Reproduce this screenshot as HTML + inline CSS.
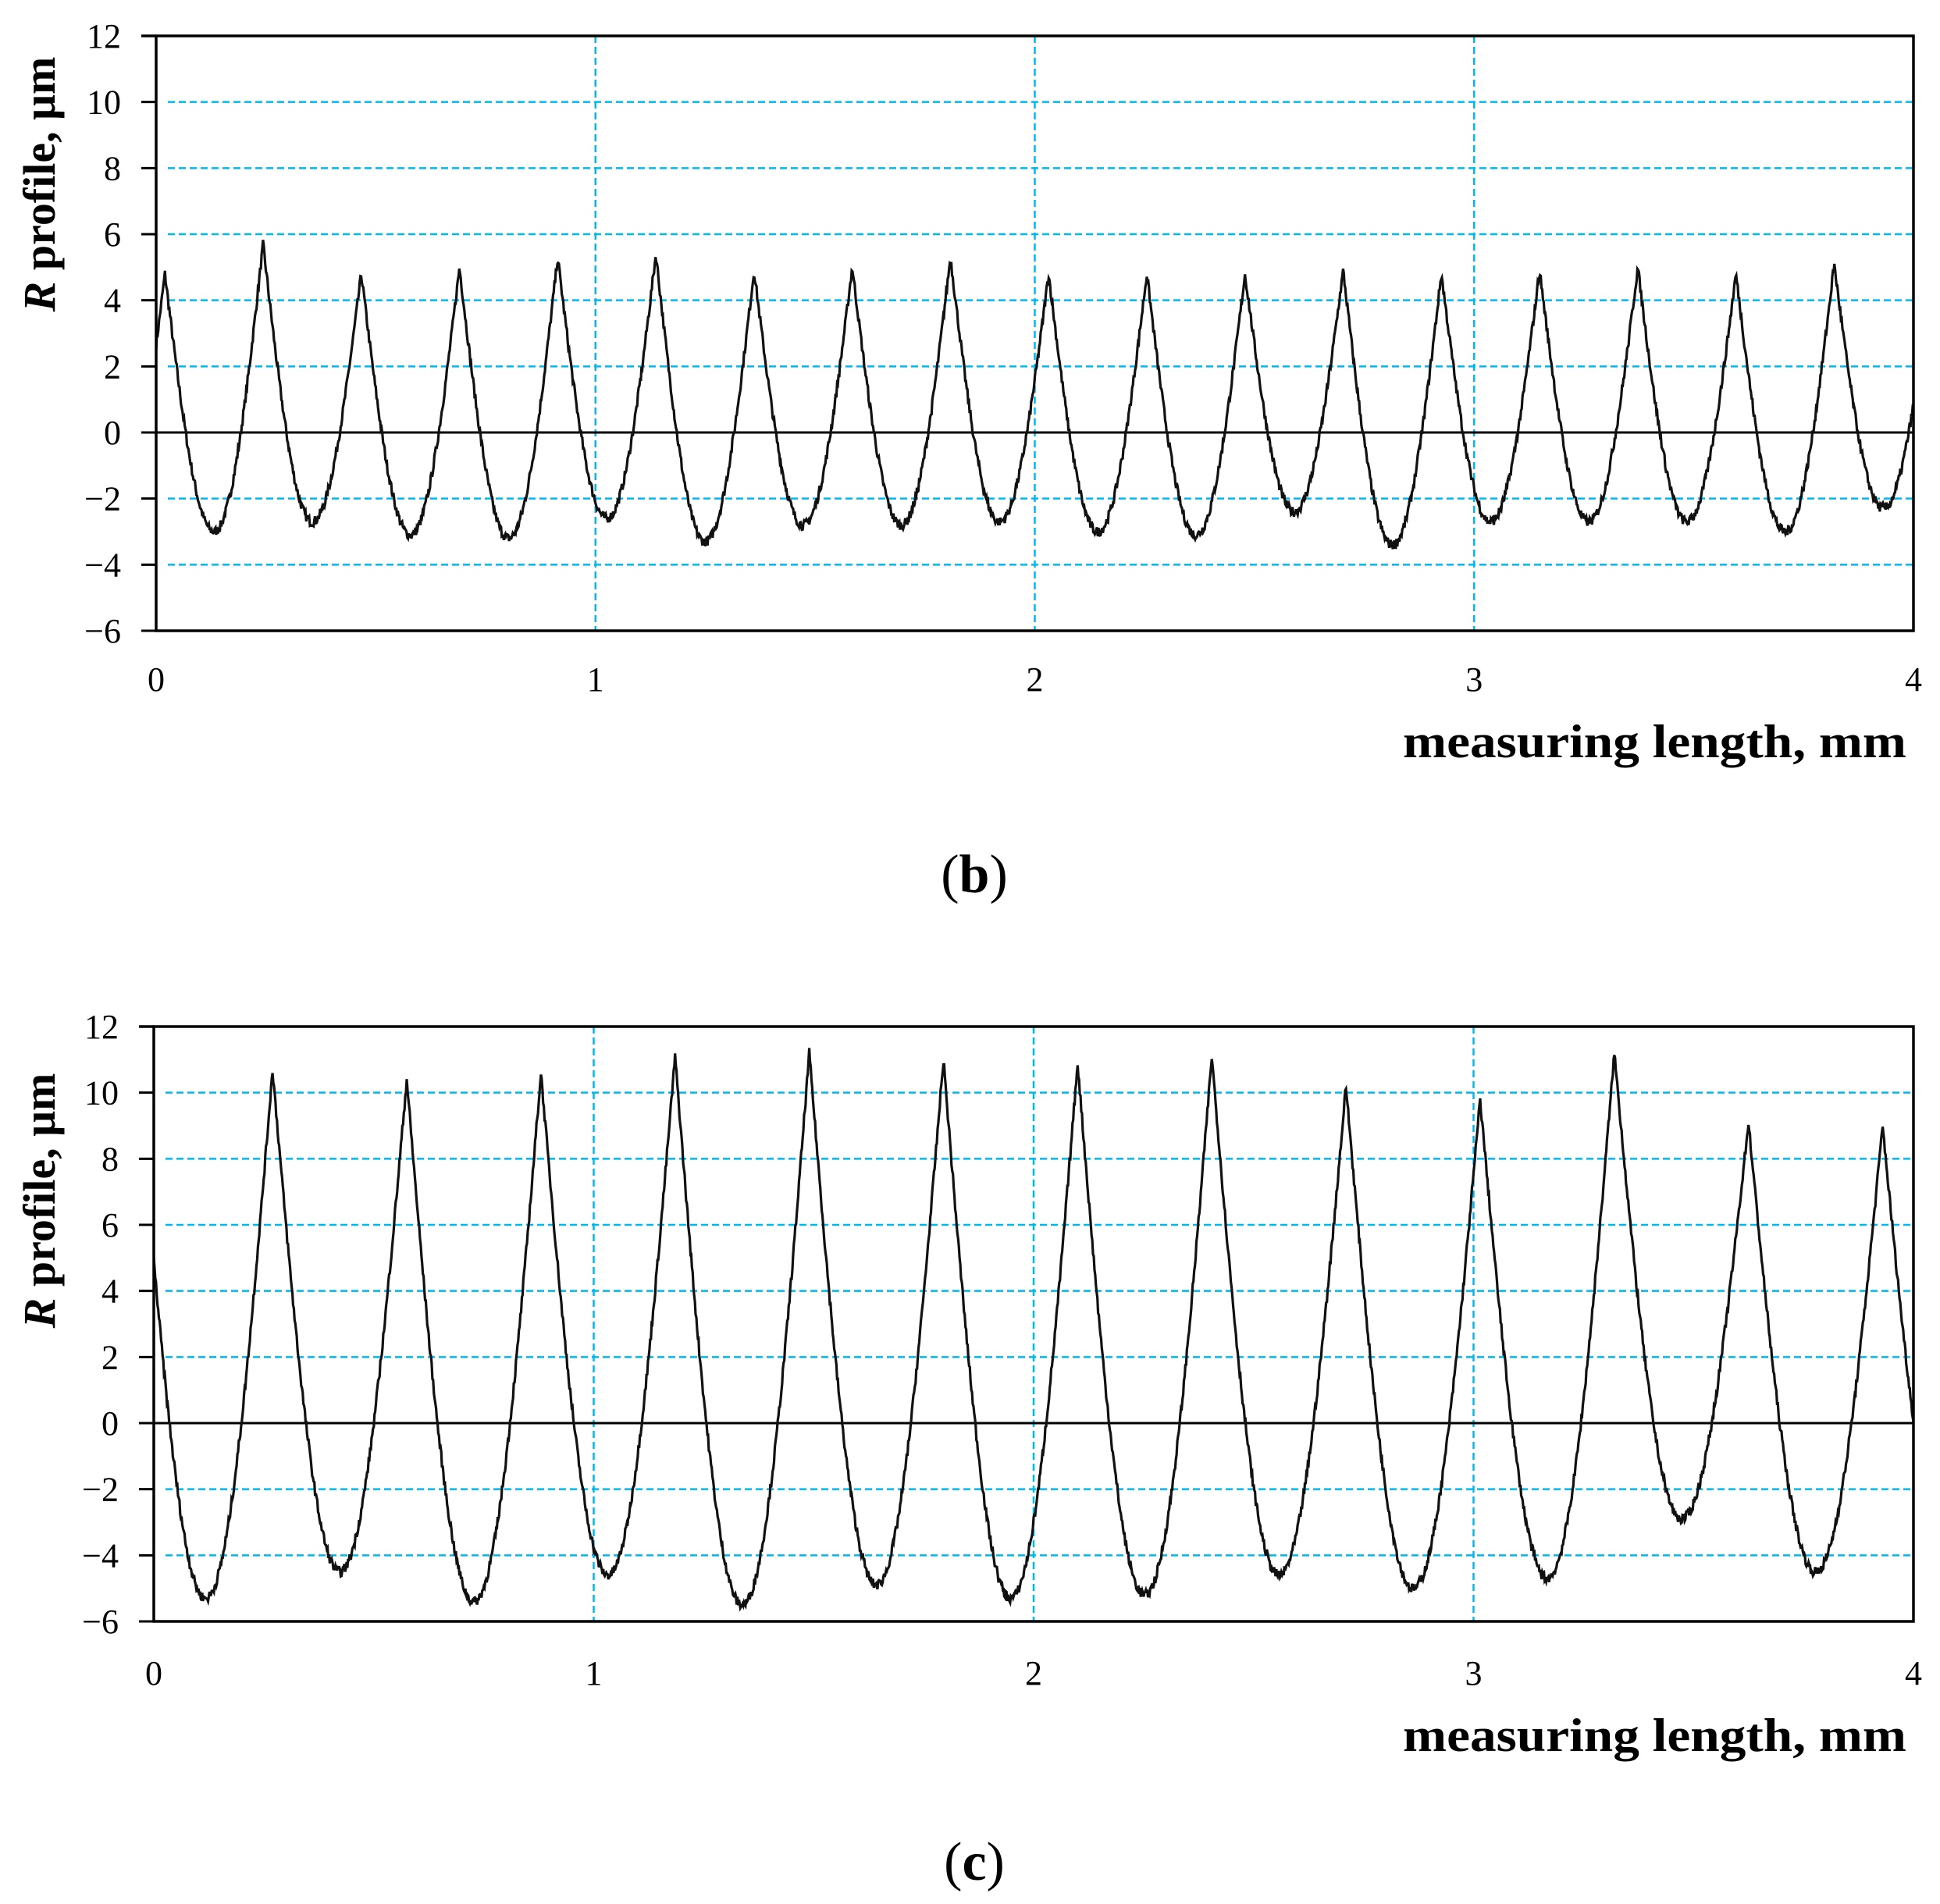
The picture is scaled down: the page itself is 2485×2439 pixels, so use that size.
<!DOCTYPE html>
<html><head><meta charset="utf-8"><style>
html,body{margin:0;padding:0;background:#fff;}
svg{display:block;}
text{font-family:"Liberation Serif",serif;fill:#000;}
</style></head><body>
<svg id="s" width="2485" height="2439" viewBox="0 0 2485 2439" xmlns="http://www.w3.org/2000/svg">
<g id="b"></g><g id="c"></g>
<text x="1248" y="1143" font-size="70" text-anchor="middle">(<tspan font-weight="bold">b</tspan>)</text>
<text x="1248" y="2408" font-size="70" text-anchor="middle">(<tspan font-weight="bold">c</tspan>)</text>
</svg>
<script>
var NS="http://www.w3.org/2000/svg";
function el(p,t,a,txt){var e=document.createElementNS(NS,t);for(var k in a)e.setAttribute(k,a[k]);if(txt!=null)e.textContent=txt;p.appendChild(e);return e;}
var seed=7;function rnd(){seed=(seed*16807)%2147483647;return seed/2147483647;}
function chart(g,L,R,T,B,labY,labX,labTitleY,peaks0,period,heights,troughs){
  var sx=function(v){return L+(R-L)*v/4;}, sy=function(v){return B-(B-T)*(v+6)/18;};
  [10,8,6,4,2,-2,-4].forEach(function(v){el(g,'line',{x1:L+15,x2:R,y1:sy(v),y2:sy(v),stroke:'#00b8f0','stroke-width':2.5,'stroke-dasharray':'9,5'});});
  [1,2,3].forEach(function(v){el(g,'line',{x1:sx(v),x2:sx(v),y1:T,y2:B,stroke:'#00b8f0','stroke-width':2.5,'stroke-dasharray':'9,5'});});
  el(g,'line',{x1:L,x2:R,y1:sy(0),y2:sy(0),stroke:'#000','stroke-width':3});
  for(var v=-6;v<=12;v+=2){el(g,'line',{x1:L-19,x2:L,y1:sy(v),y2:sy(v),stroke:'#000','stroke-width':3});
    el(g,'text',{x:L-45,y:sy(v)+15,'font-size':44,'text-anchor':'end'},(v<0?'\u2212'+(-v):''+v));}
  for(var i=0;i<=4;i++)el(g,'text',{x:sx(i),y:labX,'font-size':44,'text-anchor':'middle'},''+i);
  var d='';var N=2400;
  for(var i=0;i<=N;i++){var x=4*i/N;var k=Math.round((x-peaks0)/period);var p=(x-peaks0)/period-k;
    var kk=Math.max(0,Math.min(heights.length-1,k));var pk=heights[kk];
    var kt=Math.max(0,Math.min(troughs.length-1,p<0?k-1:k));var tr=troughs[kt];
    var y=pk-(pk-tr)*Math.sin(Math.PI*Math.abs(p))+(rnd()-0.5)*0.3;
    d+=(i?'L':'M')+sx(x).toFixed(1)+','+sy(y).toFixed(1);}
  el(g,'path',{d:d,fill:'none',stroke:'#111','stroke-width':3.2});
  el(g,'rect',{x:L,y:T,width:R-L,height:B-T,fill:'none',stroke:'#000','stroke-width':3.5});
  el(g,'line',{x1:L-19,x2:L,y1:T,y2:T,stroke:'#000','stroke-width':3.5});
  el(g,'text',{x:1797,y:labTitleY,'font-size':60,'font-weight':'bold',textLength:645,lengthAdjust:'spacingAndGlyphs'},'measuring length, mm');
  var t=el(g,'text',{transform:'translate(70,'+labY+') rotate(-90)','font-size':58,'font-weight':'bold','text-anchor':'middle'});
  el(t,'tspan',{'font-style':'italic'},'R');el(t,'tspan',{},' profile, \u03bcm');
}
chart(document.getElementById('b'),200,2451,46,808,236,885,970,0.02,0.2235,
 [4.8,5.7,4.8,5.0,5.3,5.4,4.9,5.0,5.3,4.8,4.8,4.8,4.9,4.8,4.9,5.0,4.8,5.1,5.0],
 [-3.0,-2.7,-3.1,-3.2,-2.6,-3.3,-2.8,-2.8,-2.7,-3.0,-3.1,-2.4,-3.4,-2.7,-2.7,-2.7,-3.0,-2.3,-2.5]);
chart(document.getElementById('c'),197,2451,1315,2077,1538,2158,2243,-0.035,0.305,
 [10.5,10.7,10.4,10.6,11.1,11.2,11.0,10.9,11.1,10.2,9.8,11.2,9.1,9.0],
 [-5.3,-4.5,-5.4,-4.6,-5.5,-4.9,-5.3,-5.2,-4.6,-5.0,-4.7,-2.9,-4.5,-4.5]);
</script>
</body></html>
